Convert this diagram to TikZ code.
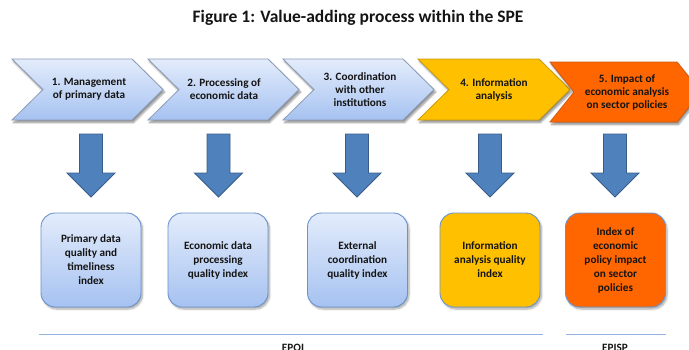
\documentclass[tikz,border=0pt]{standalone}
\usepackage{fontspec}
\setmainfont{Carlito}
\usetikzlibrary{shadows.blur}

\definecolor{txt}{HTML}{141414}
\definecolor{bluetop}{HTML}{E3ECFB}
\definecolor{bluebot}{HTML}{A6C2F1}
\definecolor{chevline}{HTML}{8C9CB6}
\definecolor{boxline}{HTML}{6A93CC}
\definecolor{gold}{HTML}{FFC000}
\definecolor{goldline}{HTML}{C99A10}
\definecolor{orng}{HTML}{FF6600}
\definecolor{orngline}{HTML}{D05A10}
\definecolor{arrfill}{HTML}{4F81BD}
\definecolor{arrline}{HTML}{385D8A}
\definecolor{rule}{HTML}{95B3DE}

\tikzset{
  x=1pt, y=-1pt,
  chevtext/.style={font=\fontsize{11.2}{13}\selectfont\bfseries, text=txt, align=center},
  boxtext/.style={font=\fontsize{11.2}{14}\selectfont\bfseries, text=txt, align=center},
  chevblue/.style={top color=bluetop, bottom color=bluebot, draw=chevline, line width=0.8pt},
  chevgold/.style={fill=gold, draw=goldline, line width=0.8pt},
  chevorange/.style={fill=orng, draw=orngline, line width=0.8pt},
  chevshadow/.style={blur shadow={shadow xshift=1.5pt, shadow yshift=-2.5pt, shadow blur steps=6, shadow opacity=45}},
  idxbox/.style={rounded corners=14pt, minimum width=100pt, minimum height=94pt,
                 inner sep=0pt, line width=0.9pt,
                 blur shadow={shadow xshift=1.5pt, shadow yshift=-2pt, shadow blur steps=6, shadow opacity=35}},
  idxblue/.style={idxbox, top color=bluetop, bottom color=bluebot, draw=boxline},
  idxgold/.style={idxbox, fill=gold, draw=boxline},
  idxorange/.style={idxbox, fill=orng, draw=boxline},
  blockarrow/.style={fill=arrfill, draw=arrline, line width=0.9pt, line join=miter},
  scaleline/.style={draw=rule, line width=1.3pt},
  scalelabel/.style={font=\fontsize{11.2}{13}\selectfont\bfseries, text=txt, anchor=base},
}

% chevron: left edge x, top y, bottom y, notch depth, width up to the tip
\newcommand{\chevronpath}[5]{%
  (#1,#2) -- ({#1+#5-#4},#2) -- ({#1+#5},{(#2+#3)/2}) -- ({#1+#5-#4},#3)
  -- (#1,#3) -- ({#1+#4},{(#2+#3)/2}) -- cycle}

% downward block arrow centred on x
\newcommand{\downarrowpath}[1]{%
  ({#1-11.5},134) -- ({#1+11.5},134) -- ({#1+11.5},173) -- ({#1+24},173)
  -- (#1,197) -- ({#1-24},173) -- ({#1-11.5},173) -- cycle}

\begin{document}
\begin{tikzpicture}
\useasboundingbox (0,0) rectangle (689,349);

% title
\node[font=\fontsize{17.5}{19}\selectfont\bfseries, text=txt] (title) at (358,18)
  {Figure 1: Value-adding process within the SPE};

% process chevrons
\path[chevblue, chevshadow] \chevronpath{12}{59}{120}{31}{151};
\path[chevblue, chevshadow] \chevronpath{148}{59}{120}{31}{151};
\path[chevblue, chevshadow] \chevronpath{283}{59}{120}{31}{151};
\path[chevgold, chevshadow] \chevronpath{418}{59}{120}{31}{152};
\path[chevorange, chevshadow] \chevronpath{550}{62}{122}{24}{151};

\node[chevtext] (s1) at (89,89.5)  {1. Management\\of primary data};
\node[chevtext] (s2) at (224,89.5) {2. Processing of\\economic data};
\node[chevtext] (s3) at (360,90)   {3. Coordination\\with other\\institutions};
\node[chevtext] (s4) at (494,90)   {4. Information\\analysis};
\node[chevtext] (s5) at (627,92)   {5. Impact of\\economic analysis\\on sector policies};

% arrows from each stage down to its index
\path[blockarrow] \downarrowpath{91};
\path[blockarrow] \downarrowpath{218.5};
\path[blockarrow] \downarrowpath{357};
\path[blockarrow] \downarrowpath{490};
\path[blockarrow] \downarrowpath{615};

% quality indices
\node[idxblue] (b1) at (91,260) {};
\node[idxblue] (b2) at (218,260) {};
\node[idxblue] (b3) at (357.5,260) {};
\node[idxgold] (b4) at (490,260) {};
\node[idxorange] (b5) at (615.5,260) {};

\node[boxtext] (t1) at (b1) {Primary data\\quality and\\timeliness\\index};
\node[boxtext] (t2) at (b2) {Economic data\\processing\\quality index};
\node[boxtext] (t3) at (b3) {External\\coordination\\quality index};
\node[boxtext] (t4) at (b4) {Information\\analysis quality\\index};
\node[boxtext] (t5) at (b5) {Index of\\economic\\policy impact\\on sector\\policies};

% grouping rules and their labels
\coordinate (r1a) at (39,334.5);
\coordinate (r1b) at (543,334.5);
\coordinate (r2a) at (566,334.5);
\coordinate (r2b) at (666,334.5);
\draw[scaleline] (r1a) -- (r1b);
\draw[scaleline] (r2a) -- (r2b);
\node[scalelabel] (g1) at (293,351) {EPQI};
\node[scalelabel] (g2) at (615,351) {EPISP};
\end{tikzpicture}
\end{document}
